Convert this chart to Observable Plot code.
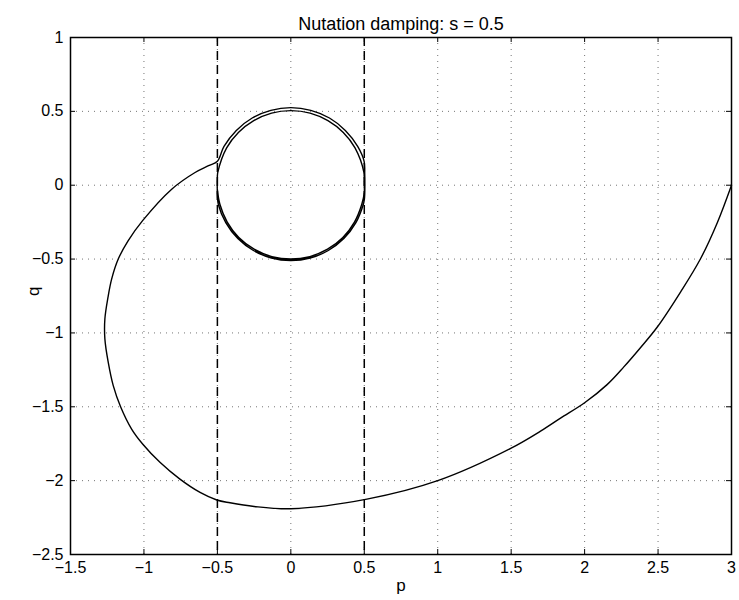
<!DOCTYPE html>
<html>
<head>
<meta charset="utf-8">
<script src="https://cdn.jsdelivr.net/npm/d3@7"></script>
<script src="https://cdn.jsdelivr.net/npm/@observablehq/plot@0.6"></script>
<style>
  body { margin: 0; background: #fff; }
</style>
</head>
<body>
<div id="chart"></div>
<script>
// Tick values and labels
const xTicks = [-1.5, -1, -0.5, 0, 0.5, 1, 1.5, 2, 2.5, 3];
const xTickLabels = ["\u22121.5", "\u22121", "\u22120.5", "0", "0.5", "1", "1.5", "2", "2.5", "3"];
const yTicks = [1, 0.5, 0, -0.5, -1, -1.5, -2, -2.5];
const yTickLabels = ["1", "0.5", "0", "\u22120.5", "\u22121", "\u22121.5", "\u22122", "\u22122.5"];
const boundaries = [-0.5, 0.5];

// Trajectory (p, q), in order
const pValues = [
  3.0, 2.904, 2.79, 2.655, 2.495, 2.38, 2.267, 2.153, 2.0, 1.836, 1.70, 1.5, 1.0, 0.518, 0, -0.25,
  -0.414, -0.504, -0.618, -0.755, -0.891, -1.009, -1.084, -1.159, -1.209, -1.243, -1.266, -1.266,
  -1.245, -1.22, -1.175, -1.107, -1.009, -0.811, -0.652, -0.56, -0.5,
  // outer top arc
  -0.455, -0.371, -0.263, -0.136, 0, 0.136, 0.263, 0.371, 0.455, 0.499,
  0.503, 0.504, 0.503, 0.5,
  // bottom arc
  0.493, 0.442, 0.361, 0.255, 0.132, 0, -0.132, -0.255, -0.361, -0.442, -0.493,
  -0.5, -0.501, -0.5,
  // inner top arc
  -0.497, -0.437, -0.357, -0.2525, -0.131, 0, 0.131, 0.2525, 0.357, 0.437, 0.497,
  0.5, 0.5,
  // limit circle bottom
  0.483, 0.433, 0.354, 0.25, 0.129, 0, -0.129, -0.25, -0.354, -0.433, -0.483, -0.5
];
const qValues = [
  0.0, -0.252, -0.496, -0.72, -0.96, -1.10, -1.23, -1.35, -1.473, -1.577, -1.665, -1.78, -2.0, -2.125, -2.19, -2.175,
  -2.15, -2.131, -2.08, -1.99, -1.876, -1.752, -1.651, -1.5, -1.357, -1.2, -1.04, -0.906,
  -0.76, -0.636, -0.5, -0.375, -0.24, -0.027, 0.086, 0.132, 0.162,
  0.263, 0.371, 0.455, 0.507, 0.525, 0.507, 0.455, 0.371, 0.263, 0.162,
  0.08, 0.0, -0.06, -0.10,
  -0.132, -0.255, -0.361, -0.442, -0.493, -0.51, -0.493, -0.442, -0.361, -0.255, -0.132,
  -0.07, 0.0, 0.06,
  0.088, 0.2525, 0.357, 0.437, 0.488, 0.505, 0.488, 0.437, 0.357, 0.2525, 0.088,
  0.0, -0.05,
  -0.129, -0.25, -0.354, -0.433, -0.483, -0.5, -0.483, -0.433, -0.354, -0.25, -0.129, -0.03
];

const traj = pValues.map((p, i) => ({p, q: qValues[i]}));

const W = 739, H = 600;
const mL = 70, mR = 8, mT = 37, mB = 46;
const plotW = W - mL - mR, plotH = H - mT - mB;
const font = "'Liberation Sans', Arial, Helvetica, sans-serif";
const fx = (d) => xTickLabels[xTicks.indexOf(d)];
const fy = (d) => yTickLabels[yTicks.indexOf(d)];

const chart = Plot.plot({
  width: W,
  height: H,
  marginLeft: mL,
  marginRight: mR,
  marginTop: mT,
  marginBottom: mB,
  style: {fontFamily: font, fontSize: "16px", color: "#000", background: "#fff", overflow: "visible"},
  x: {domain: [-1.5, 3], label: null},
  y: {domain: [-2.5, 1], label: null},
  marks: [
    Plot.gridX(xTicks, {stroke: "#000", strokeOpacity: 0.55, strokeDasharray: "1,5"}),
    Plot.gridY(yTicks, {stroke: "#000", strokeOpacity: 0.55, strokeDasharray: "1,5"}),
    Plot.ruleX(boundaries, {stroke: "#000", strokeWidth: 1.5, strokeDasharray: "9,5"}),
    Plot.line(traj, {x: "p", y: "q", curve: "catmull-rom", stroke: "#000", strokeWidth: 1.4}),
    Plot.frame({stroke: "#000", strokeWidth: 1.5}),
    // inward ticks
    Plot.tickX(xTicks, {x: (d) => d, insetTop: plotH - 5, stroke: "#000"}),
    Plot.tickX(xTicks, {x: (d) => d, insetBottom: plotH - 5, stroke: "#000"}),
    Plot.tickY(yTicks, {y: (d) => d, insetRight: plotW - 5, stroke: "#000"}),
    Plot.tickY(yTicks, {y: (d) => d, insetLeft: plotW - 5, stroke: "#000"}),
    Plot.axisX(xTicks, {tickSize: 0, tickPadding: 7, fontSize: 16, tickFormat: fx, label: null}),
    Plot.axisY(yTicks, {tickSize: 0, tickPadding: 7, fontSize: 16, tickFormat: fy, label: null}),
    Plot.text(["p"], {frameAnchor: "bottom", dy: 36, fontSize: 17, fill: "#000"}),
    Plot.text(["q"], {frameAnchor: "left", dx: -37, rotate: -90, fontSize: 17, fill: "#000"}),
    Plot.text(["Nutation damping: s = 0.5"], {frameAnchor: "top", dy: -20, fontSize: 18, fill: "#000"})
  ]
});

document.getElementById("chart").appendChild(chart);
</script>
</body>
</html>
